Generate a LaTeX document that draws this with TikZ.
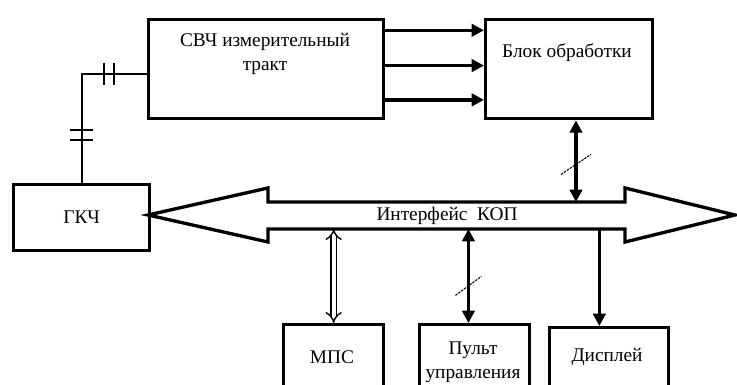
\documentclass[tikz,border=0pt]{standalone}
\usepackage{fontspec}
\setmainfont{Liberation Serif}
\usetikzlibrary{arrows.meta, calc}

\begin{document}
\begin{tikzpicture}[
        x=0.02cm, y=-0.02cm,
        font=\fontsize{11pt}{13.6pt}\selectfont,
        block/.style={rectangle, draw, line width=1.9pt, anchor=north west, inner sep=0pt},
        label/.style={align=center, inner sep=0pt},
        arrow/.style={-{Triangle[length=7pt, width=7pt]}, line width=1.9pt},
        biarrow/.style={{Triangle[length=7pt, width=7pt]}-{Triangle[length=7pt, width=7pt]}, line width=1.9pt},
        hollow/.style={{Implies}-{Implies}, double, double distance=2.4pt, line width=0.8pt},
        coupling/.style={line width=1pt},
        slash/.style={line width=0.6pt, dash pattern=on 1.4pt off 0.6pt},
        bus/.style={draw, line width=1.9pt, line join=miter, fill=white}
    ]
        \clip (0,0) rectangle (737,385);

        % blocks
        \node[block, minimum width=4.7cm, minimum height=1.98cm] (svch) at (147,18) {};
        \node[block, minimum width=3.34cm, minimum height=1.98cm] (blk) at (484,18) {};
        \node[block, minimum width=2.72cm, minimum height=1.32cm] (gkch) at (12,183) {ГКЧ};
        \node[block, minimum width=2cm, minimum height=1.8cm] (mps) at (282,323) {};
        \node[block, minimum width=2.2cm, minimum height=1.8cm] (pult) at (418,323) {};
        \node[block, minimum width=2.38cm, minimum height=1.8cm] (disp) at (548,326) {};

        \node[label] (svch-t) at (265,54) {СВЧ измерительный\\тракт};
        \node[label] (blk-t) at (567,53) {Блок обработки};
        \node[label] (mps-t) at (332,357) {МПС};
        \node[label] (pult-t) at (473,362) {Пульт\\управления};
        \node[label] (disp-t) at (607,357) {Дисплей};

        % interface bus
        \draw[bus] (148,215) -- (268,188) -- (268,202) -- (625,202) -- (625,188)
            -- (735,215) -- (625,242) -- (625,229) -- (268,229) -- (268,242) -- cycle;
        \coordinate (busT) at (0,202);
        \coordinate (busB) at (0,229);
        \node[label] (bus) at (447,216) {Интерфейс~~КОП};

        % measuring channel outputs
        \foreach \f in {0.12,0.465,0.8}
            \draw[arrow] ($(svch.north east)!\f!(svch.south east)$) -- ($(blk.north west)!\f!(blk.south west)$);

        % coupling to generator
        \coordinate (cpl) at (82,74);
        \draw[coupling] (svch.west |- cpl) -- (cpl) -- (gkch.north -| cpl);
        \foreach \d in {22,32}
            \draw[coupling] ($(cpl)+(\d,-11)$) -- ($(cpl)+(\d,11)$);
        \foreach \d in {56,66}
            \draw[coupling] ($(cpl)+(-12,\d)$) -- ($(cpl)+(11,\d)$);

        % bus connections
        \coordinate (blkA) at ($(blk.south west)!0.54!(blk.south east)$);
        \draw[biarrow] (blkA) -- coordinate[pos=0.54] (blkM) (blkA |- busT);
        \draw[slash] ($(blkM)+(-15,10)$) -- ($(blkM)+(15,-10)$);

        \draw[hollow] (mps.north |- busB) -- (mps.north);

        \coordinate (pultA) at ($(pult.north west)!0.445!(pult.north east)$);
        \draw[biarrow] (pultA |- busB) -- coordinate[pos=0.6] (pultM) (pultA);
        \draw[slash] ($(pultM)+(-13,10)$) -- ($(pultM)+(13,-9)$);

        \coordinate (dispA) at ($(disp.north west)!0.42!(disp.north east)$);
        \draw[arrow] (dispA |- busB) -- (dispA);
    \end{tikzpicture}
\end{document}
